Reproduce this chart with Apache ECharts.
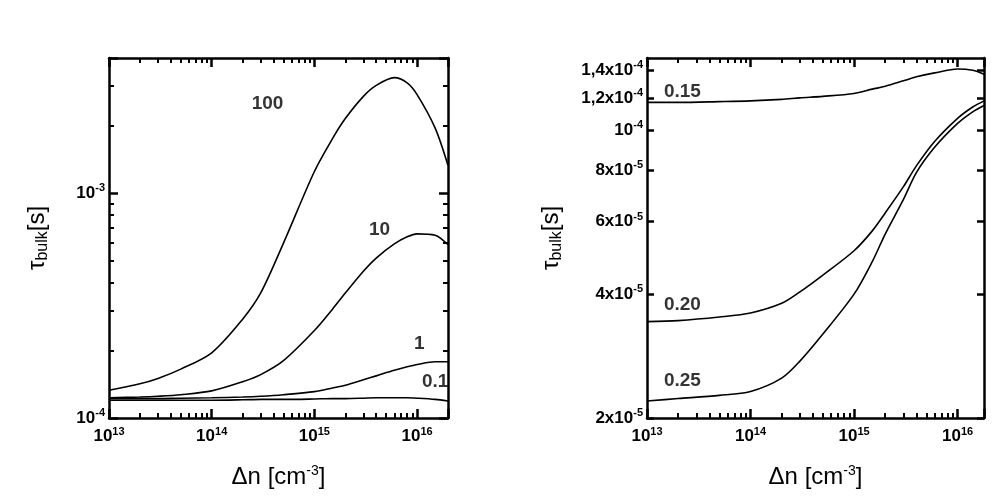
<!DOCTYPE html>
<html><head><meta charset="utf-8">
<script src="https://cdn.jsdelivr.net/npm/echarts@6/dist/echarts.min.js"></script>
<style>html,body{margin:0;background:#fff}#main{width:1004px;height:502px}</style>
</head><body><div id="main"></div>
<script>
// left panel: tau_bulk vs injection, curves labelled 100, 10, 1, 0.1
const xLeft = [1e13, 2e13, 3e13, 5e13, 1e14, 2e14, 3e14, 5e14, 1e15, 1.5e15, 2e15, 3e15, 4e15, 6e15, 8e15, 1e16, 1.5e16, 2e16];
const c100 = [1.33e-4, 1.42e-4, 1.5e-4, 1.65e-4, 1.95e-4, 2.75e-4, 3.6e-4, 6.0e-4, 1.25e-3, 1.75e-3, 2.15e-3, 2.7e-3, 3.02e-3, 3.27e-3, 3.1e-3, 2.75e-3, 1.95e-3, 1.33e-3];
const c10 = [1.23e-4, 1.24e-4, 1.25e-4, 1.27e-4, 1.32e-4, 1.45e-4, 1.56e-4, 1.8e-4, 2.45e-4, 3.05e-4, 3.6e-4, 4.5e-4, 5.15e-4, 5.95e-4, 6.4e-4, 6.6e-4, 6.5e-4, 5.9e-4];
const c1 = [1.22e-4, 1.22e-4, 1.22e-4, 1.225e-4, 1.23e-4, 1.24e-4, 1.25e-4, 1.27e-4, 1.31e-4, 1.36e-4, 1.4e-4, 1.48e-4, 1.54e-4, 1.63e-4, 1.69e-4, 1.73e-4, 1.78e-4, 1.78e-4];
const c01 = [1.2e-4, 1.2e-4, 1.2e-4, 1.2e-4, 1.2e-4, 1.205e-4, 1.21e-4, 1.21e-4, 1.215e-4, 1.22e-4, 1.22e-4, 1.225e-4, 1.23e-4, 1.23e-4, 1.23e-4, 1.225e-4, 1.21e-4, 1.19e-4];
const leftLabels = [['100', 3.5e14, 2.5e-3], ['10', 4.3e15, 6.9e-4], ['1', 1.05e16, 2.13e-4], ['0.1', 1.5e16, 1.45e-4]];

// right panel: curves labelled 0.15, 0.20, 0.25
const xRight = [1e13, 2e13, 5e13, 1e14, 2e14, 3e14, 5e14, 1e15, 1.5e15, 2e15, 3e15, 4e15, 6e15, 1e16, 1.4e16, 1.8e16];
const c015 = [1.17e-4, 1.17e-4, 1.175e-4, 1.18e-4, 1.19e-4, 1.2e-4, 1.21e-4, 1.23e-4, 1.26e-4, 1.28e-4, 1.32e-4, 1.35e-4, 1.38e-4, 1.41e-4, 1.4e-4, 1.37e-4];
const c020 = [3.43e-5, 3.45e-5, 3.52e-5, 3.6e-5, 3.8e-5, 4.05e-5, 4.45e-5, 5.1e-5, 5.7e-5, 6.3e-5, 7.3e-5, 8.2e-5, 9.4e-5, 1.07e-4, 1.14e-4, 1.18e-4];
const c025 = [2.2e-5, 2.23e-5, 2.27e-5, 2.32e-5, 2.5e-5, 2.75e-5, 3.2e-5, 4.0e-5, 4.8e-5, 5.6e-5, 6.8e-5, 7.9e-5, 9.1e-5, 1.04e-4, 1.11e-4, 1.15e-4];
const rightLabels = [['0.15', 2.2e13, 1.24e-4], ['0.20', 2.2e13, 3.77e-5], ['0.25', 2.2e13, 2.46e-5]];
const rightTicks = [2e-5, 4e-5, 6e-5, 8e-5, 1e-4, 1.2e-4, 1.4e-4];
const rightTickText = ['2x10{s|-5}', '4x10{s|-5}', '6x10{s|-5}', '8x10{s|-5}', '10{s|-4}', '1,2x10{s|-4}', '1,4x10{s|-4}'];

const FONT = 'Liberation Sans';
const rich = {
  b: {fontFamily: FONT, fontWeight: 'bold', fontSize: 17, color: '#000'},
  s: {fontFamily: FONT, fontWeight: 'bold', fontSize: 11, color: '#000', padding: [0, 0, 10, 0]}
};
const nameRich = {
  n: {fontFamily: FONT, fontSize: 24, color: '#000'},
  sub: {fontFamily: FONT, fontSize: 16, color: '#000', padding: [12, 0, 0, 0]},
  sup: {fontFamily: FONT, fontSize: 14, color: '#000', padding: [0, 0, 12, 0]}
};
const pow = v => Math.round(Math.log10(v));
const powFmt = v => Math.abs(Math.log10(v) - pow(v)) < 1e-6 ? '{b|10}{s|' + pow(v) + '}' : '';
const rightFmt = v => {
  const t = rightTickText[rightTicks.findIndex(r => Math.abs(r - v) / r < 1e-3)];
  return t ? t.replace(/^([^{]+)/, '{b|$1}') : '';
};

function xAxes(gi) {
  const base = {type: 'log', gridIndex: gi, min: 1e13, max: gi ? 1.8e16 : 2e16, logBase: 10,
    axisLine: {onZero: false, lineStyle: {color: '#000', width: 2.5}},
    axisTick: {inside: true, length: 9, lineStyle: {width: 2.5, color: '#000'}},
    minorTick: {show: true, splitNumber: 9, length: 5, lineStyle: {width: 2, color: '#000'}},
    splitLine: {show: false}};
  return [
    Object.assign({}, base, {position: 'bottom', name: '{n|Δn [cm}{sup|-3}{n|]}', nameLocation: 'middle', nameGap: 46,
      nameTextStyle: {rich: nameRich}, axisLabel: {formatter: powFmt, rich: rich, margin: 8}}),
    Object.assign({}, base, {position: 'top', axisLabel: {show: false}})
  ];
}
function yAxes(gi, extra) {
  const base = {gridIndex: gi, type: 'log', logBase: 10,
    axisLine: {onZero: false, lineStyle: {color: '#000', width: 2.5}},
    axisTick: {inside: true, length: 9, lineStyle: {width: 2.5, color: '#000'}},
    minorTick: {show: true, splitNumber: 9, length: 5, lineStyle: {width: 2, color: '#000'}},
    splitLine: {show: false}};
  Object.assign(base, extra);
  return [
    Object.assign({}, base, {position: 'left', name: '{n|τ}{sub|bulk}{n|[s]}', nameLocation: 'middle',
      nameGap: gi ? 82 : 58, nameRotate: 90, nameTextStyle: {rich: nameRich},
      axisLabel: Object.assign({rich: rich, margin: 4}, extra.axisLabel)}),
    Object.assign({}, base, {position: 'right', axisLabel: {show: false}})
  ];
}

const line = (xs, ys, xi, yi) => ({type: 'line', xAxisIndex: xi, yAxisIndex: yi, smooth: 0.3, symbol: 'none',
  lineStyle: {color: '#000', width: 1.6}, data: xs.map((x, i) => [x, ys[i]])});
const labels = (arr, xi, yi) => ({type: 'scatter', xAxisIndex: xi, yAxisIndex: yi, symbolSize: 0,
  label: {show: true, position: 'inside', formatter: p => p.data[2], fontFamily: FONT, fontWeight: 'bold', fontSize: 19, color: '#000'},
  data: arr.map(a => [a[1], a[2], a[0]])});

const chart = echarts.init(document.getElementById('main'));
chart.setOption({
  backgroundColor: '#fff',
  animation: false,
  grid: [
    {left: 109, top: 58, width: 339, height: 360},
    {left: 647, top: 58, width: 337, height: 360}
  ],
  xAxis: xAxes(0).concat(xAxes(1)),
  yAxis: yAxes(0, {min: 1e-4, max: 4e-3, axisLabel: {formatter: powFmt}})
    .concat(yAxes(1, {min: 2e-5, max: 1.5e-4, minorTick: {show: false},
      axisTick: {inside: true, length: 7, customValues: rightTicks, lineStyle: {width: 2.5, color: '#000'}},
      axisLabel: {customValues: rightTicks, formatter: rightFmt}})),
  series: [
    line(xLeft, c100, 0, 0), line(xLeft, c10, 0, 0), line(xLeft, c1, 0, 0), line(xLeft, c01, 0, 0),
    labels(leftLabels, 0, 0),
    line(xRight, c015, 2, 2), line(xRight, c020, 2, 2), line(xRight, c025, 2, 2),
    labels(rightLabels, 2, 2)
  ]
});
</script></body></html>
